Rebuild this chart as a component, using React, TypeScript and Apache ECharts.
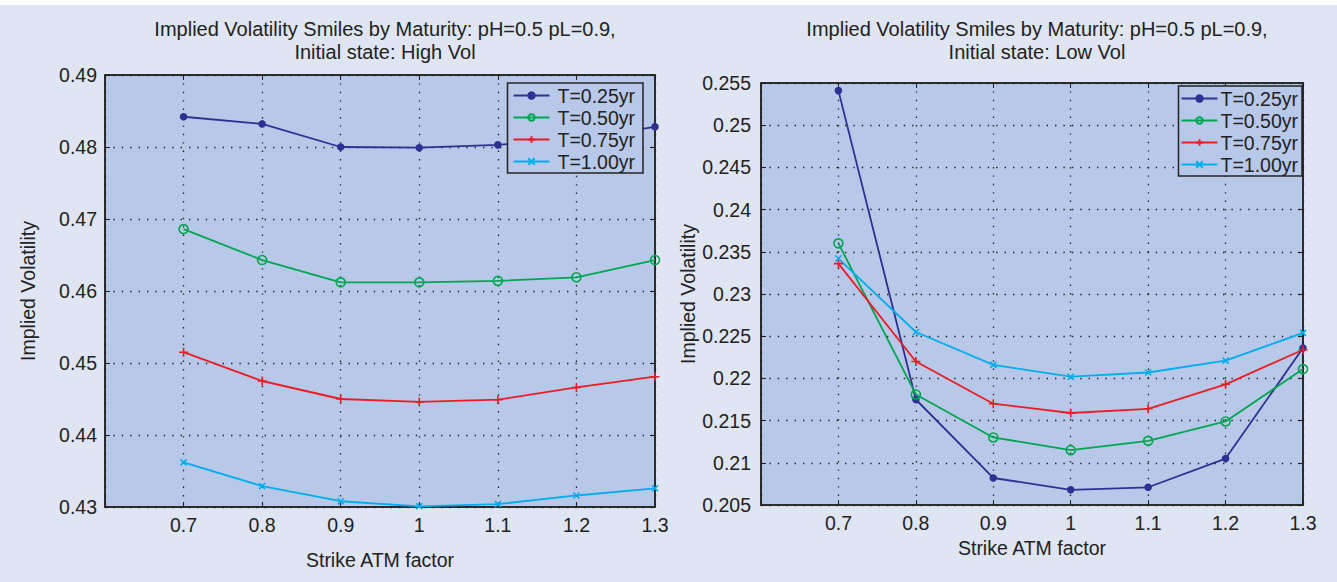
import React, { useEffect, useRef } from "react";
import * as echarts from "echarts";

const strikes = [0.7, 0.8, 0.9, 1.0, 1.1, 1.2, 1.3];
const seriesNames = ["T=0.25yr", "T=0.50yr", "T=0.75yr", "T=1.00yr"];

// Left panel: Initial state High Vol
const highT025 = [0.4842, 0.4832, 0.48, 0.4799, 0.4803, 0.4811, 0.4828];
const highT050 = [0.4686, 0.4643, 0.4612, 0.4612, 0.4614, 0.4619, 0.4643];
const highT075 = [0.4515, 0.4475, 0.445, 0.4446, 0.4449, 0.4466, 0.4481];
const highT100 = [0.4362, 0.4329, 0.4308, 0.4301, 0.4304, 0.4316, 0.4326];

// Right panel: Initial state Low Vol
const lowT025 = [0.2541, 0.2175, 0.2082, 0.2068, 0.2071, 0.2105, 0.2236];
const lowT050 = [0.236, 0.2181, 0.213, 0.2115, 0.2126, 0.2149, 0.2211];
const lowT075 = [0.2336, 0.222, 0.217, 0.2159, 0.2164, 0.2193, 0.2234];
const lowT100 = [0.2342, 0.2255, 0.2216, 0.2202, 0.2207, 0.2221, 0.2254];

const titleLeft = "Implied Volatility Smiles by Maturity: pH=0.5 pL=0.9,\nInitial state: High Vol";
const titleRight = "Implied Volatility Smiles by Maturity: pH=0.5 pL=0.9,\nInitial state: Low Vol";
const xName = "Strike ATM factor";
const yName = "Implied Volatility";

const colors = ["#2e3192", "#00a651", "#ed1c24", "#00aeef"];
const FONT = "'Liberation Sans', Arial, Helvetica, sans-serif";
const FS = 19.5;
const PLOT_BG = "#b8c8e8";
const PAGE_BG = "#dfe5f3";
const TXT = "#222";

const symbols = [
  { symbol: "circle", size: 6, fill: true },
  { symbol: "path://M10,5A5,5,0,1,1,0,5A5,5,0,1,1,10,5Z", size: 9, fill: false },
  { symbol: "path://M5,0L5,10M0,5L10,5", size: 9, fill: true },
  { symbol: "path://M0,0L10,10M10,0L0,10", size: 6, fill: true },
];

function makeSeries(values: number[][], gridIdx: number) {
  return values.map((vals, i) => ({
    name: seriesNames[i],
    type: "line",
    xAxisIndex: gridIdx * 2,
    yAxisIndex: gridIdx * 2,
    data: strikes.map((s, k) => [s, vals[k]]),
    color: colors[i],
    symbol: symbols[i].symbol,
    symbolSize: symbols[i].size,
    showSymbol: true,
    lineStyle: { color: colors[i], width: 1.8 },
    itemStyle: {
      color: symbols[i].fill ? colors[i] : "rgba(0,0,0,0)",
      borderColor: colors[i],
      borderWidth: 1.6,
    },
    z: 2,
  }));
}

const dotted = { color: TXT, width: 1.3, type: [1.4, 7] as any };

function xAxes(gridIndex: number, nameGap: number) {
  return [
    {
      type: "value",
      gridIndex,
      position: "bottom",
      min: 0.6,
      max: 1.3,
      interval: 0.1,
      name: xName,
      nameLocation: "middle",
      nameGap,
      nameTextStyle: { fontSize: FS, color: TXT, fontFamily: FONT },
      axisLine: { show: true, lineStyle: { color: TXT, width: 1.5 } },
      axisTick: { show: true, inside: true, length: 5, lineStyle: { color: TXT } },
      axisLabel: {
        fontSize: FS,
        color: TXT,
        fontFamily: FONT,
        margin: 8,
        formatter: (v: number) => (v < 0.65 ? "" : String(+v.toFixed(1))),
      },
      splitLine: { show: true, lineStyle: dotted },
    },
    {
      type: "value",
      gridIndex,
      position: "top",
      min: 0.6,
      max: 1.3,
      interval: 0.1,
      axisLine: { show: true, lineStyle: { color: TXT, width: 1.5 } },
      axisTick: { show: true, inside: true, length: 5, lineStyle: { color: TXT } },
      axisLabel: { show: false },
      splitLine: { show: false },
    },
  ];
}

function yAxes(gridIndex: number, min: number, max: number, interval: number, nameGap: number, margin: number) {
  return [
    {
      type: "value",
      gridIndex,
      position: "left",
      min,
      max,
      interval,
      name: yName,
      nameLocation: "middle",
      nameGap,
      nameTextStyle: { fontSize: FS, color: TXT, fontFamily: FONT },
      axisLine: { show: true, lineStyle: { color: TXT, width: 1.5 } },
      axisTick: { show: true, inside: true, length: 5, lineStyle: { color: TXT } },
      axisLabel: { fontSize: FS, color: TXT, fontFamily: FONT, margin },
      splitLine: { show: true, lineStyle: dotted },
    },
    {
      type: "value",
      gridIndex,
      position: "right",
      min,
      max,
      interval,
      axisLine: { show: true, lineStyle: { color: TXT, width: 1.5 } },
      axisTick: { show: true, inside: true, length: 5, lineStyle: { color: TXT } },
      axisLabel: { show: false },
      splitLine: { show: false },
    },
  ];
}

function legendCfg(right: number, top: number, padLeft: number, padRight: number, textPad: number, lineH: number) {
  return {
    orient: "vertical",
    right,
    top,
    z: 10,
    data: seriesNames,
    backgroundColor: PLOT_BG,
    borderColor: TXT,
    borderWidth: 1.5,
    borderRadius: 0,
    padding: [2, padRight, 1, padLeft],
    itemGap: 1,
    itemWidth: 36,
    itemHeight: 8,
    textStyle: { fontSize: FS, color: TXT, fontFamily: FONT, lineHeight: lineH, padding: [0, 0, 0, textPad] },
  };
}

export default function App() {
  const ref = useRef<HTMLDivElement>(null);
  useEffect(() => {
    document.body.style.margin = "0";
    const chart = echarts.init(ref.current!, null, { renderer: "svg" });
    chart.setOption({
      animation: false,
      backgroundColor: PAGE_BG,
      graphic: [
        { type: "rect", shape: { x: 0, y: 0, width: 1337, height: 5 }, style: { fill: "#ffffff" }, silent: true },
      ],
      title: [
        {
          text: titleLeft,
          left: 380,
          top: 12,
          textAlign: "center",
          textStyle: { fontSize: 20, fontWeight: "normal", color: TXT, fontFamily: FONT, lineHeight: 23 },
        },
        {
          text: titleRight,
          left: 1032,
          top: 12,
          textAlign: "center",
          textStyle: { fontSize: 20, fontWeight: "normal", color: TXT, fontFamily: FONT, lineHeight: 23 },
        },
      ],
      legend: [legendCfg(1337 - 643, 83, 5, 8, 3, 21), legendCfg(1337 - 1302, 86, 2, 4, -2, 21)],
      grid: [
        {
          left: 105,
          top: 75,
          width: 550,
          height: 432,
          show: true,
          backgroundColor: PLOT_BG,
          borderColor: TXT,
          borderWidth: 1.5,
        },
        {
          left: 761,
          top: 83,
          width: 542,
          height: 422,
          show: true,
          backgroundColor: PLOT_BG,
          borderColor: TXT,
          borderWidth: 1.5,
        },
      ],
      xAxis: [...xAxes(0, 43), ...xAxes(1, 32)],
      yAxis: [...yAxes(0, 0.43, 0.49, 0.01, 67, 8), ...yAxes(1, 0.205, 0.255, 0.005, 63, 10)],
      series: [
        ...makeSeries([highT025, highT050, highT075, highT100], 0),
        ...makeSeries([lowT025, lowT050, lowT075, lowT100], 1),
      ],
    });
    return () => chart.dispose();
  }, []);
  return <div ref={ref} style={{ position: "fixed", left: 0, top: 0, width: 1337, height: 582 }} />;
}
